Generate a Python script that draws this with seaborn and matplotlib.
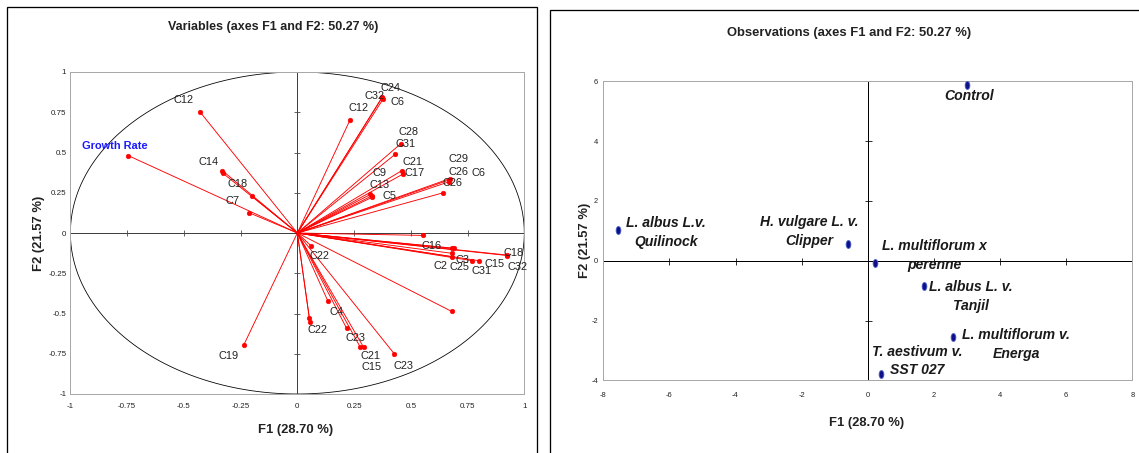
import numpy as np
import matplotlib
matplotlib.use('Agg')
import matplotlib.pyplot as plt
import seaborn as sns
from matplotlib.patches import Rectangle
from matplotlib.path import Path
from matplotlib.transforms import Bbox, TransformedBbox

# variables (correlation circle)
var_names = ['Growth Rate', 'C12', 'C14', '', 'C18', 'C7', 'C19', 'C12', 'C24', 'C32', 'C6',
             'C28', 'C31', 'C21', 'C17', 'C9', 'C13', 'C5', 'C29', 'C26', 'C6', 'C26',
             'C16', '', 'C3', 'C2', 'C25', 'C31', 'C15', 'C18', 'C32', '',
             'C22', 'C4', 'C22', '', 'C23', 'C21', 'C15', 'C23']
f1_load = [-0.744, -0.43, -0.33, -0.327, -0.199, -0.213, -0.237, 0.232, 0.375, 0.373, 0.377,
           0.456, 0.432, 0.46, 0.465, 0.322, 0.327, 0.33, 0.672, 0.67, 0.668, 0.643,
           0.555, 0.68, 0.692, 0.68, 0.68, 0.77, 0.799, 0.925, 0.925, 0.68,
           0.06, 0.135, 0.053, 0.055, 0.217, 0.276, 0.292, 0.428]
f2_load = [0.48, 0.754, 0.387, 0.37, 0.228, 0.126, -0.698, 0.702, 0.847, 0.84, 0.83,
           0.555, 0.49, 0.387, 0.366, 0.24, 0.23, 0.222, 0.338, 0.33, 0.318, 0.25,
           -0.015, -0.095, -0.095, -0.126, -0.147, -0.172, -0.172, -0.137, -0.14, -0.487,
           -0.079, -0.424, -0.53, -0.55, -0.592, -0.706, -0.71, -0.752]

# observations
obs_names = ['L. albus L.v.\nQuilinock', 'H. vulgare L. v.\nClipper', 'Control',
             'L. multiflorum x\nperenne', 'L. albus L. v.\nTanjil',
             'L. multiflorum v.\nEnerga', 'T. aestivum v.\nSST 027']
obs_f1 = [-7.56, -0.59, 2.99, 0.22, 1.70, 2.58, 0.40]
obs_f2 = [1.03, 0.55, 5.87, -0.08, -0.85, -2.54, -3.79]

var_ticks = [-1, -0.75, -0.5, -0.25, 0, 0.25, 0.5, 0.75, 1]
var_ticklabels = ['-1', '-0.75', '-0.5', '-0.25', '0', '0.25', '0.5', '0.75', '1']
obs_xticks = [-8, -6, -4, -2, 0, 2, 4, 6, 8]
obs_yticks = [-4, -2, 0, 2, 4, 6]

# label offsets (px) from the point
var_off = [(-14, 10), (-16, 12), (-14, 9), (0, 0), (-15, 12), (-17, 12), (-15, -11), (8, 12),
           (8, 9), (-8, 2), (15, -3), (8, 12), (10, 10), (11, 9), (12, 1), (9, 21), (8, 11),
           (17, 1), (9, 20), (9, 8), (30, 9), (9, 10), (8, -11), (0, 0), (8, -12), (-11, -13),
           (8, -10), (9, -10), (16, -3), (6, 2), (10, -11), (0, 0), (8, -10), (9, -11),
           (8, -12), (0, 0), (9, -10), (11, -9), (8, -20), (9, -12)]
obs_off = [(48, -3), (-39, 13), (2, -11), (59, 8), (47, -10), (63, -8), (36, 13)]

sns.set_style('white')
plt.rcParams['font.family'] = ['Liberation Sans', 'DejaVu Sans']
plt.rcParams['axes.unicode_minus'] = False

W, H = 1139, 453
fig = plt.figure(figsize=(W / 72, H / 72), dpi=72)


def px_ax(l, t, r, b):
    return fig.add_axes([l / W, 1 - b / H, (r - l) / W, (b - t) / H])


# panel frames
fig.patches.append(Rectangle((7 / W, -0.1), 530 / W, 1 - 7 / H + 0.1, transform=fig.transFigure,
                             fill=False, ec='black', lw=1.3))
fig.patches.append(Rectangle((550 / W, -0.1), 0.6, 1 - 10 / H + 0.1, transform=fig.transFigure,
                             fill=False, ec='black', lw=1.3))

# ---------- left: variables ----------
ax1 = px_ax(70.4, 72, 524.3, 394)
t = np.linspace(0, 2 * np.pi, 400)
ax1.plot(np.cos(t), np.sin(t), color='black', lw=0.8, zorder=1)
ax1.axhline(0, color='#404040', lw=1, zorder=1)
ax1.axvline(0, color='#404040', lw=1, zorder=1)
inner = [v for v in var_ticks if v not in (-1, 0, 1)]
ax1.plot(inner, [0] * len(inner), ls='none', marker='|', ms=6, color='#404040', mew=0.8)
ax1.plot([0] * len(inner), inner, ls='none', marker='_', ms=6, color='#404040', mew=0.8)
for x, y in zip(f1_load, f2_load):
    ax1.plot([0, x], [0, y], color='red', lw=0.9, zorder=2)
sns.scatterplot(x=f1_load, y=f2_load, color='red', s=22, edgecolor='red', linewidth=0.5,
                ax=ax1, zorder=3)
for name, x, y, (dx, dy) in zip(var_names, f1_load, f2_load, var_off):
    if not name:
        continue
    if name == 'Growth Rate':
        ax1.annotate(name, (x, y), xytext=(dx, dy), textcoords='offset points', ha='center',
                     va='center', fontsize=11, color='#1a1aff', fontweight='bold')
    else:
        ax1.annotate(name, (x, y), xytext=(dx, dy), textcoords='offset points', ha='center',
                     va='center', fontsize=11, color='#222222')
ax1.set_xlim(-1, 1)
ax1.set_ylim(-1, 1)
ax1.set_xticks(var_ticks)
ax1.set_xticklabels(var_ticklabels)
ax1.set_yticks(var_ticks)
ax1.set_yticklabels(var_ticklabels)
ax1.tick_params(length=0, labelsize=8, colors='#222222')
ax1.tick_params(axis='x', pad=9)
ax1.tick_params(axis='y', pad=4)
for s in ax1.spines.values():
    s.set_color('#a8a8a8')
    s.set_linewidth(1)

fig.text(273 / W, 1 - 27 / H, 'Variables (axes F1 and F2: 50.27 %)', ha='center', va='center',
         fontsize=12.5, fontweight='bold', color='#222222')
fig.text(296 / W, 1 - 430 / H, 'F1 (28.70 %)', ha='center', va='center', fontsize=13,
         fontweight='bold', color='#222222')
fig.text(39 / W, 1 - 233 / H, 'F2 (21.57 %)', ha='center', va='center', rotation=90,
         fontsize=13, fontweight='bold', color='#222222')

# ---------- right: observations ----------
ax2 = px_ax(603.2, 81.3, 1132.4, 380.3)
ax2.axhline(0, color='black', lw=1, zorder=1)
ax2.axvline(0, color='black', lw=1, zorder=1)
xin = [v for v in obs_xticks if v not in (-8, 0, 8)]
yin = [v for v in obs_yticks if v not in (-4, 0, 6)]
ax2.plot(xin, [0] * len(xin), ls='none', marker='|', ms=7, color='black', mew=0.8)
ax2.plot([0] * len(yin), yin, ls='none', marker='_', ms=7, color='black', mew=0.8)

ang = np.linspace(0, 2 * np.pi, 40)
ell = Path(np.column_stack([0.6 * np.cos(ang), np.sin(ang)]), closed=True)
sns.scatterplot(x=obs_f1, y=obs_f2, marker=ell, s=64, color='#10108a', edgecolor='#4a64c8',
                linewidth=0.8, ax=ax2, zorder=3)
for name, x, y, (dx, dy) in zip(obs_names, obs_f1, obs_f2, obs_off):
    ax2.annotate(name, (x, y), xytext=(dx, dy), textcoords='offset points', ha='center',
                 va='center', fontsize=14, fontweight='bold', fontstyle='italic',
                 color='#1a1a1a', linespacing=1.45)
ax2.set_xlim(-8, 8)
ax2.set_ylim(-4, 6)
ax2.set_xticks(obs_xticks)
ax2.set_yticks(obs_yticks)
ax2.tick_params(length=0, labelsize=7.5, colors='#222222')
ax2.tick_params(axis='x', pad=12)
ax2.tick_params(axis='y', pad=5)
for s in ax2.spines.values():
    s.set_color('#a8a8a8')
    s.set_linewidth(1)

fig.text(849 / W, 1 - 33 / H, 'Observations (axes F1 and F2: 50.27 %)', ha='center',
         va='center', fontsize=13, fontweight='bold', color='#222222')
fig.text(867 / W, 1 - 423 / H, 'F1 (28.70 %)', ha='center', va='center', fontsize=13,
         fontweight='bold', color='#222222')
yl = fig.text(585 / W, 1 - 240 / H, 'F2 (21.57 %)', ha='center', va='center', rotation=90,
              fontsize=13, fontweight='bold', color='#222222')
yl.set_clip_box(TransformedBbox(Bbox([[0, 0], [589.5 / W, 1]]), fig.transFigure))
yl.set_clip_on(True)

fig.savefig('out.png', dpi=72, facecolor='white')
